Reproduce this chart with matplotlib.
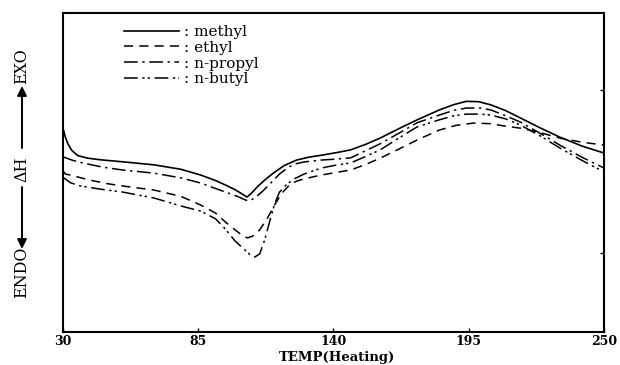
import matplotlib
matplotlib.use("Agg")
import matplotlib.pyplot as plt

# DSC heating curves (arbitrary heat-flow units)
methyl_t = [30, 31, 32, 33.5, 36, 40, 45, 55, 67, 78, 86, 92, 96, 100, 103, 104.8, 106.5,
            109, 112, 115.5, 120, 125, 130, 135, 141, 147, 153, 159, 167, 174, 183, 189,
            194, 199, 204, 210, 216, 224, 232, 241, 250]
methyl_v = [63.9, 61.0, 59.0, 57.0, 55.3, 54.5, 54.0, 53.3, 52.4, 51.0, 49.2, 47.5, 46.1,
            44.6, 43.2, 42.3, 43.4, 45.5, 47.6, 49.8, 52.2, 53.9, 54.8, 55.4, 56.2, 57.1,
            58.8, 60.8, 63.9, 66.5, 69.6, 71.3, 72.3, 72.2, 71.2, 69.4, 67.1, 64.0, 61.1,
            58.3, 56.1]

ethyl_t = [30, 31, 33, 37, 41, 48, 54, 67, 78, 86, 92, 96, 100, 103, 105, 107, 110, 113,
           116, 119, 122, 125, 128, 135, 141, 147, 153, 159, 167, 174, 183, 190, 197, 204,
           210, 216, 224, 232, 241, 250]
ethyl_v = [50.5, 49.5, 49.2, 48.4, 47.6, 46.5, 45.8, 44.5, 42.5, 39.8, 37.3, 34.5, 32.0,
           30.2, 29.5, 30.0, 32.0, 35.5, 39.8, 43.5, 46.0, 47.3, 48.0, 49.2, 50.0, 50.8,
           52.5, 54.5, 57.5, 60.2, 63.3, 64.8, 65.5, 65.3, 64.5, 63.9, 62.5, 60.8, 59.5,
           58.6]

propyl_t = [30, 34, 38, 46, 54, 67, 78, 86, 92, 96, 101, 103.5, 105.2, 107, 109, 111, 114,
            118, 122, 125, 128, 135, 141, 147, 153, 159, 167, 174, 183, 189, 194, 200, 204,
            210, 216, 224, 232, 241, 250]
propyl_v = [54.9, 53.8, 53.0, 51.7, 50.8, 49.8, 48.3, 46.7, 45.0, 43.9, 42.5, 41.6, 41.1,
            41.6, 42.7, 44.0, 46.3, 49.5, 51.8, 52.8, 53.3, 53.9, 54.2, 54.6, 56.8, 59.0,
            62.5, 65.6, 68.0, 69.5, 70.2, 70.2, 69.6, 67.8, 65.8, 62.3, 58.6, 54.8, 51.4]

butyl_t = [30, 33, 37, 45, 54, 67, 78, 86, 92, 96, 100, 104, 106, 108, 110, 112, 114, 116,
           118, 121, 124, 128, 135, 141, 147, 153, 159, 167, 174, 183, 189, 194, 200, 204,
           210, 216, 224, 232, 241, 250]
butyl_v = [48.5, 46.8, 45.8, 44.8, 43.9, 42.0, 39.5, 37.9, 35.5, 32.3, 28.5, 25.7, 24.3,
           23.5, 24.5, 28.8, 34.5, 40.0, 43.8, 46.3, 48.0, 49.5, 51.4, 52.3, 53.0, 55.0,
           57.1, 61.0, 64.3, 66.5, 67.8, 68.3, 68.3, 68.0, 66.8, 64.9, 61.5, 57.7, 53.8,
           50.2]

xticks = [30, 85, 140, 195, 250]

serif = "DejaVu Serif"

fig = plt.figure(figsize=(6.2, 3.65), dpi=100)
ax = fig.add_axes([0.1016, 0.0904, 0.8726, 0.874])

ax.plot(methyl_t, methyl_v, color="black", lw=1.2, linestyle="-", label=": methyl")
ax.plot(ethyl_t, ethyl_v, color="black", lw=1.1, linestyle=(0, (6, 4)), label=": ethyl")
ax.plot(propyl_t, propyl_v, color="black", lw=1.1, linestyle=(0, (9, 3, 1.5, 3)),
        label=": n-propyl")
ax.plot(butyl_t, butyl_v, color="black", lw=1.1, linestyle=(0, (9, 3, 1.5, 2, 1.5, 3)),
        label=": n-butyl")

ax.set_xlim(30, 250)
ax.set_ylim(0, 100)
ax.set_xticks(xticks)
ax.set_xticklabels([str(t) for t in xticks], fontfamily=serif, fontweight="bold",
                   fontsize=9)
ax.set_yticks([24.8, 75.9])
ax.tick_params(axis="x", direction="in", length=3, width=1, pad=2)
ax.tick_params(axis="y", direction="in", length=3, width=1, left=False, right=True,
               labelleft=False)
for s in ax.spines.values():
    s.set_linewidth(1.5)

fig.text(337 / 620, 1 - 357 / 365, "TEMP(Heating)", ha="center", va="center",
         fontfamily=serif, fontweight="bold", fontsize=9.5)

leg = ax.legend(loc="upper left", bbox_to_anchor=(124 / 620, 1 - 25 / 365),
                bbox_transform=fig.transFigure, frameon=False, handlelength=3.6,
                handletextpad=0.3, labelspacing=0.12, borderpad=0, borderaxespad=0,
                prop={"family": serif, "size": 11})

# vertical "ENDO <- dH -> EXO" label
tx = 22 / 620
fig.text(tx, 1 - 66 / 365, "EXO", rotation=90, ha="center", va="center",
         fontfamily=serif, fontsize=11.5)
fig.text(tx, 1 - 169 / 365, "ΔH", rotation=90, ha="center", va="center",
         fontfamily=serif, fontsize=11.5)
fig.text(tx, 1 - 272 / 365, "ENDO", rotation=90, ha="center", va="center",
         fontfamily=serif, fontsize=11.5)
arrow = dict(arrowstyle="-|>", lw=1.4, color="black", mutation_scale=14,
             shrinkA=0, shrinkB=0)
fig.add_artist(matplotlib.patches.FancyArrowPatch((tx, 1 - 148 / 365), (tx, 1 - 86 / 365),
                                                  transform=fig.transFigure, **arrow))
fig.add_artist(matplotlib.patches.FancyArrowPatch((tx, 1 - 187 / 365), (tx, 1 - 249 / 365),
                                                  transform=fig.transFigure, **arrow))

fig.savefig("out.png", dpi=100)
